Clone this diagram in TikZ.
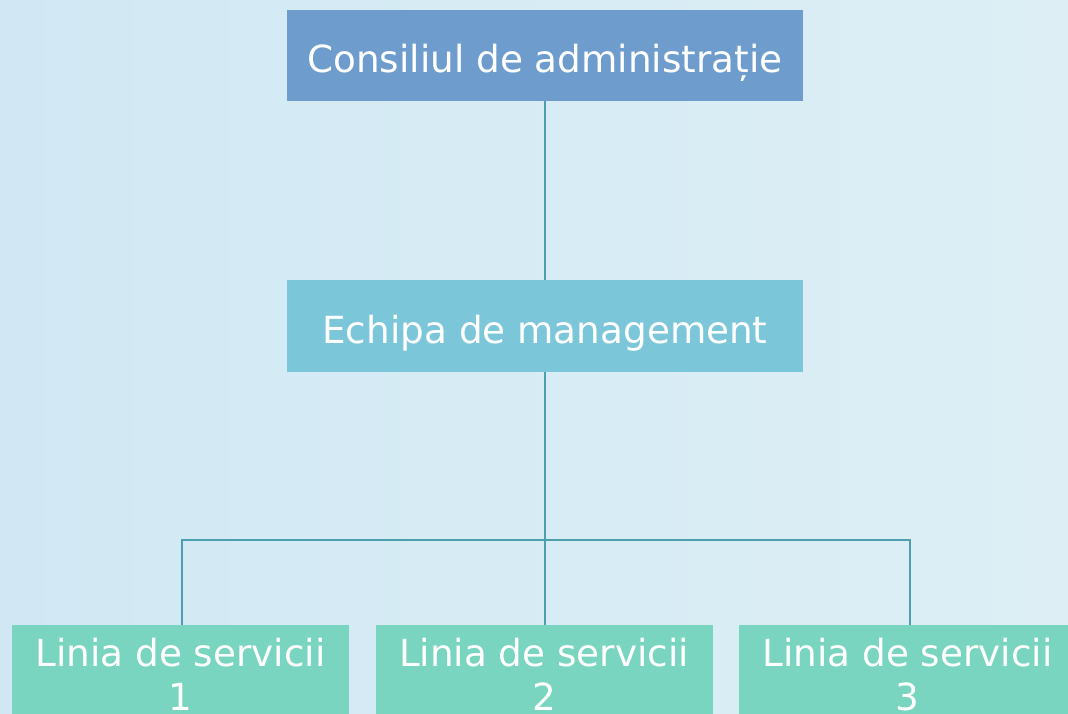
\documentclass[tikz,border=0pt]{standalone}
\usepackage{fontspec}
\setmainfont{DejaVu Sans}
\definecolor{bgleft}{HTML}{D1E8F4}
\definecolor{bgright}{HTML}{DDEFF5}
\definecolor{boardblue}{HTML}{6E9DCD}
\definecolor{mgmtblue}{HTML}{7CC6DA}
\definecolor{linegreen}{HTML}{79D5BF}
\definecolor{wire}{HTML}{4E9FAE}
\tikzset{
  box/.style={inner sep=0pt,text=white,align=center,
    font=\fontsize{28}{33}\selectfont},
  topbox/.style={box,text height=26pt,text depth=0pt,fill=boardblue,minimum width=387pt,minimum height=68.25pt},
  midbox/.style={box,text height=26pt,text depth=0pt,fill=mgmtblue,minimum width=387pt,minimum height=69pt},
  linebox/.style={box,text height=60pt,text depth=0pt,fill=linegreen,minimum width=252.75pt,minimum height=67.5pt},
  conn/.style={draw=wire,line width=1.1pt}
}
\begin{document}
\begin{tikzpicture}[x=0.75pt,y=-0.75pt]
  \useasboundingbox (0,0) rectangle (1068,714);
  \clip (0,0) rectangle (1068,714);
  \shade[left color=bgleft,right color=bgright] (0,0) rectangle (1068,714);
  % boxes
  \node[topbox] at (545,55)(board){Consiliul de administrație};
  \node[midbox] at (545,326)(mgmt){Echipa de management};
  \foreach \x/\n in {180.5/1,544/2,907.5/3}{
    \node[linebox] at (\x,670)(line\n){Linia de servicii\\\n};
  }
  % wires
  \coordinate (split) at (545,540);
  \path[conn] (board) -- (mgmt);
  \path[conn] (mgmt) -- (split);
  \path[conn] ([xshift=1pt]line1.north) |- (split) -| ([xshift=2pt]line3.north);
  \path[conn] (split) -- (split |- line2.north);
\end{tikzpicture}
\end{document}
